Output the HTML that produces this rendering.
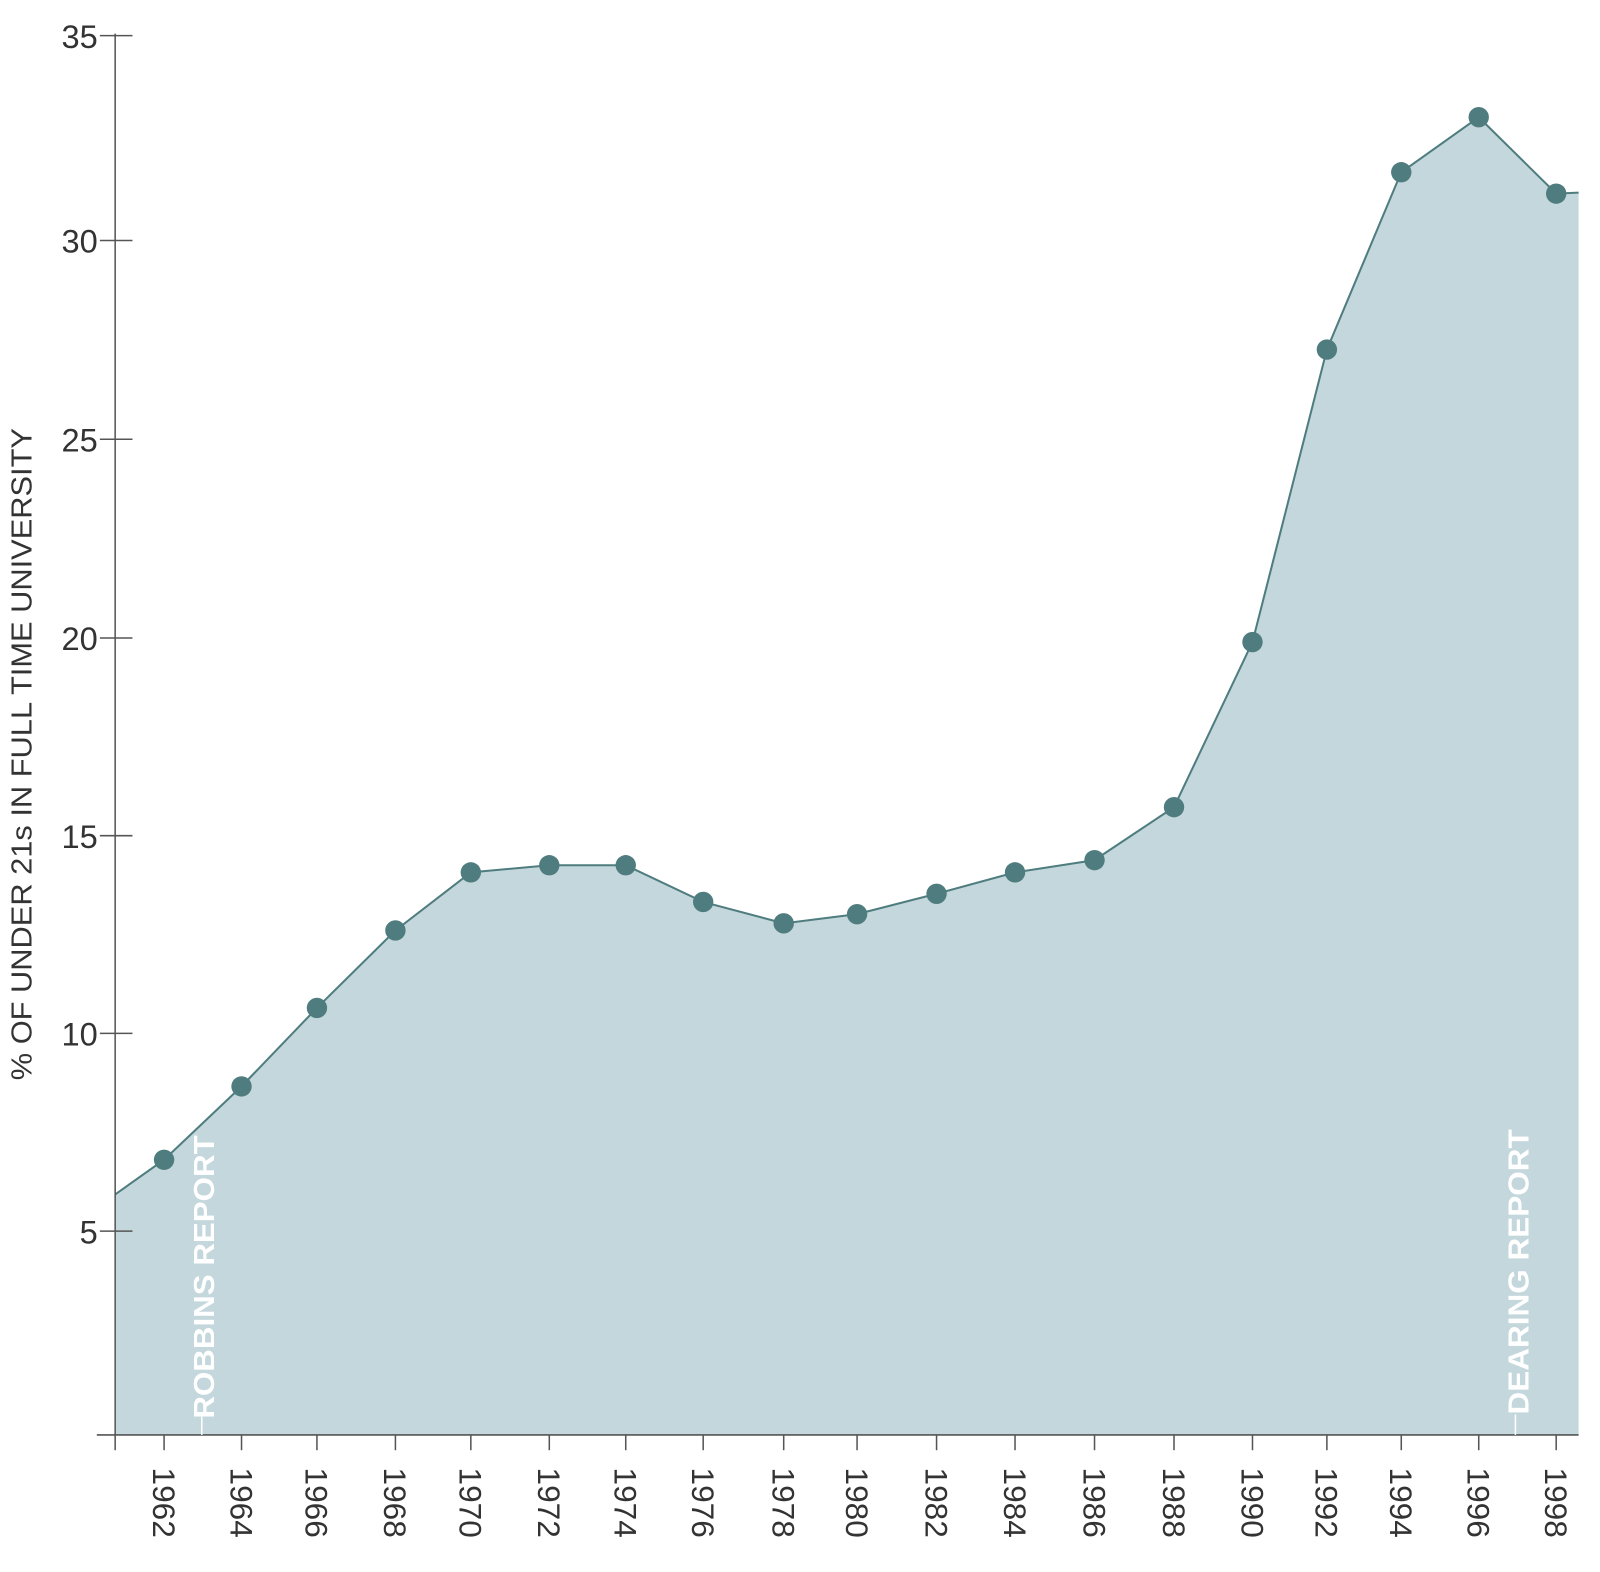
<!DOCTYPE html>
<html><head><meta charset="utf-8"><style>
html,body{margin:0;padding:0;background:#fff;}
svg{display:block;}
text{font-family:"Liberation Sans","DejaVu Sans",sans-serif;}
</style></head><body>
<svg width="1600" height="1572" viewBox="0 0 1570 1542.5" preserveAspectRatio="none" xmlns="http://www.w3.org/2000/svg">
<polygon fill="#c4d7dc" points="113,1172 161,1138 237,1066 311,989 388,913 462,856 539,849 614,849 690,885 769,906 841,897 919,877 996,856 1074,844 1152,792 1229,630 1302,343 1375,169 1451,115 1527,190 1549,189 1549,1408 113,1408"/>
<polyline fill="none" stroke="#4f7d7f" stroke-width="2" points="113,1172 161,1138 237,1066 311,989 388,913 462,856 539,849 614,849 690,885 769,906 841,897 919,877 996,856 1074,844 1152,792 1229,630 1302,343 1375,169 1451,115 1527,190 1549,189"/>
<g fill="#4f7d7f">
<circle cx="161" cy="1138" r="10"/><circle cx="237" cy="1066" r="10"/><circle cx="311" cy="989" r="10"/><circle cx="388" cy="913" r="10"/><circle cx="462" cy="856" r="10"/><circle cx="539" cy="849" r="10"/><circle cx="614" cy="849" r="10"/><circle cx="690" cy="885" r="10"/><circle cx="769" cy="906" r="10"/><circle cx="841" cy="897" r="10"/><circle cx="919" cy="877" r="10"/><circle cx="996" cy="856" r="10"/><circle cx="1074" cy="844" r="10"/><circle cx="1152" cy="792" r="10"/><circle cx="1229" cy="630" r="10"/><circle cx="1302" cy="343" r="10"/><circle cx="1375" cy="169" r="10"/><circle cx="1451" cy="115" r="10"/><circle cx="1527" cy="190" r="10"/>
</g>
<g stroke="#555" stroke-width="1.5">
<line x1="113" y1="33" x2="113" y2="1423"/>
<line x1="95" y1="1408" x2="1549" y2="1408"/>
<line x1="98" y1="35" x2="130" y2="35"/><line x1="98" y1="236" x2="130" y2="236"/><line x1="98" y1="431" x2="130" y2="431"/><line x1="98" y1="626" x2="130" y2="626"/><line x1="98" y1="820" x2="130" y2="820"/><line x1="98" y1="1014" x2="130" y2="1014"/><line x1="98" y1="1208" x2="130" y2="1208"/>
<line x1="161" y1="1408" x2="161" y2="1423"/><line x1="237" y1="1408" x2="237" y2="1423"/><line x1="311" y1="1408" x2="311" y2="1423"/><line x1="388" y1="1408" x2="388" y2="1423"/><line x1="462" y1="1408" x2="462" y2="1423"/><line x1="539" y1="1408" x2="539" y2="1423"/><line x1="614" y1="1408" x2="614" y2="1423"/><line x1="690" y1="1408" x2="690" y2="1423"/><line x1="769" y1="1408" x2="769" y2="1423"/><line x1="841" y1="1408" x2="841" y2="1423"/><line x1="919" y1="1408" x2="919" y2="1423"/><line x1="996" y1="1408" x2="996" y2="1423"/><line x1="1074" y1="1408" x2="1074" y2="1423"/><line x1="1152" y1="1408" x2="1152" y2="1423"/><line x1="1229" y1="1408" x2="1229" y2="1423"/><line x1="1302" y1="1408" x2="1302" y2="1423"/><line x1="1375" y1="1408" x2="1375" y2="1423"/><line x1="1451" y1="1408" x2="1451" y2="1423"/><line x1="1527" y1="1408" x2="1527" y2="1423"/>
</g>
<g fill="#333" font-size="32" text-anchor="end">
<text x="96" y="47">35</text><text x="96" y="248">30</text><text x="96" y="443">25</text><text x="96" y="638">20</text><text x="96" y="832">15</text><text x="96" y="1026">10</text><text x="96" y="1220">5</text>
</g>
<g fill="#333" font-size="31">
<text transform="translate(150,1440) rotate(90)">1962</text><text transform="translate(226,1440) rotate(90)">1964</text><text transform="translate(300,1440) rotate(90)">1966</text><text transform="translate(377,1440) rotate(90)">1968</text><text transform="translate(451,1440) rotate(90)">1970</text><text transform="translate(528,1440) rotate(90)">1972</text><text transform="translate(603,1440) rotate(90)">1974</text><text transform="translate(679,1440) rotate(90)">1976</text><text transform="translate(758,1440) rotate(90)">1978</text><text transform="translate(830,1440) rotate(90)">1980</text><text transform="translate(908,1440) rotate(90)">1982</text><text transform="translate(985,1440) rotate(90)">1984</text><text transform="translate(1063,1440) rotate(90)">1986</text><text transform="translate(1141,1440) rotate(90)">1988</text><text transform="translate(1218,1440) rotate(90)">1990</text><text transform="translate(1291,1440) rotate(90)">1992</text><text transform="translate(1364,1440) rotate(90)">1994</text><text transform="translate(1440,1440) rotate(90)">1996</text><text transform="translate(1516,1440) rotate(90)">1998</text>
</g>
<text transform="translate(31,740) rotate(-90)" text-anchor="middle" fill="#333" font-size="28" textLength="640" lengthAdjust="spacingAndGlyphs">% OF UNDER 21s IN FULL TIME UNIVERSITY</text>
<g stroke="#fff" stroke-width="1.5"><line x1="198" y1="1390" x2="198" y2="1408"/><line x1="1487" y1="1388" x2="1487" y2="1408"/></g>
<g fill="#fff" font-size="28" font-weight="bold">
<text transform="translate(210,1392) rotate(-90)" textLength="278" lengthAdjust="spacingAndGlyphs">ROBBINS REPORT</text>
<text transform="translate(1500,1388) rotate(-90)" textLength="280" lengthAdjust="spacingAndGlyphs">DEARING REPORT</text>
</g>
</svg>
</body></html>
